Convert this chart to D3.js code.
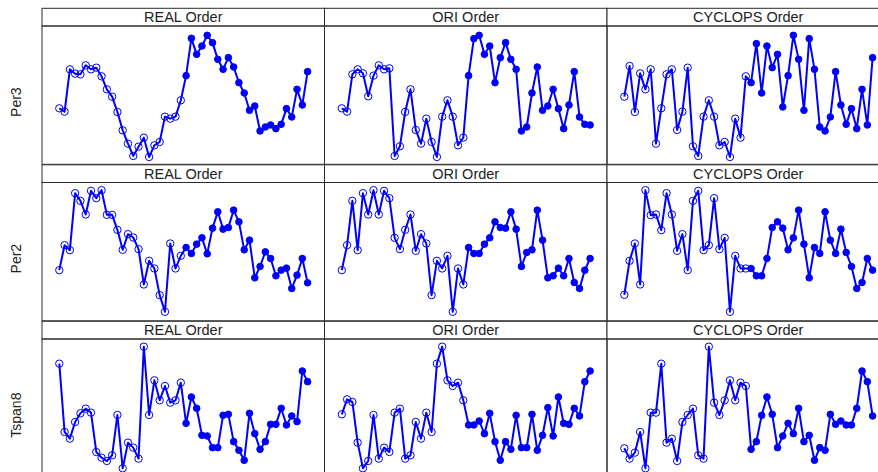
<!DOCTYPE html>
<html>
<head>
<meta charset="utf-8">
<script src="https://cdn.jsdelivr.net/npm/d3@7/dist/d3.min.js"></script>
<style>
  html, body { margin: 0; padding: 0; background: #fff; }
  svg { display: block; }
  text { font-family: "Liberation Sans", Arial, sans-serif; }
</style>
</head>
<body>
<svg id="chart" width="878" height="472"></svg>
<script>
// ---- data ----
const genes = ["Per3", "Per2", "Tspan8"];
const orders = ["REAL Order", "ORI Order", "CYCLOPS Order"];
const nOpen = 24; // first 24 samples drawn as open circles, rest filled

const per3Real = [1.68,1.58,2.85,2.72,2.70,2.97,2.85,2.90,2.64,2.25,2.03,1.57,1.02,0.62,0.25,0.53,0.80,0.22,0.57,0.67,1.43,1.37,1.43,1.92,
  2.66,3.78,3.30,3.55,3.87,3.65,3.15,2.85,3.20,2.92,2.45,2.14,1.62,1.75,1.00,1.12,1.18,1.07,1.20,1.67,1.42,2.25,1.78,2.78];
const per3Ori = [1.68,1.58,2.70,2.85,2.73,2.04,2.66,2.97,2.85,2.88,0.25,0.54,1.57,2.25,1.03,0.62,1.37,0.67,0.22,1.43,1.92,1.43,0.57,0.80,
  2.66,3.77,3.87,3.30,3.55,2.45,3.20,3.65,3.15,2.85,1.00,1.12,2.14,2.92,1.62,1.75,2.25,1.67,1.07,1.78,2.78,1.42,1.20,1.18];
const per3Cyclops = [2.03,2.95,1.57,2.73,2.25,2.85,0.62,1.68,2.70,2.85,1.03,1.58,2.90,0.54,0.25,1.43,1.92,1.43,0.57,0.67,0.22,1.37,0.80,2.64,
  2.45,3.62,2.14,3.55,2.90,3.30,1.72,2.66,3.87,3.15,1.62,3.77,2.85,1.12,1.00,1.42,2.78,1.78,1.20,1.67,1.07,2.25,1.18,3.20];

const per2Real = [1.52,2.27,2.12,3.83,3.60,3.19,3.90,3.68,3.92,3.18,3.18,2.73,2.13,2.60,2.50,2.15,1.09,1.80,1.57,0.77,0.27,2.32,1.57,1.95,
  2.20,2.02,2.30,2.49,2.01,2.78,3.27,2.75,2.80,3.32,2.97,2.13,2.42,1.29,1.63,2.07,1.87,1.35,1.52,1.58,0.97,1.37,1.87,1.14];
const per2Ori = [1.52,2.27,3.60,2.12,3.83,3.19,3.92,3.19,3.90,3.68,2.49,2.15,2.73,3.19,2.10,2.60,2.32,0.77,1.80,1.57,1.95,0.27,1.57,1.09,
  2.20,2.02,2.02,2.30,2.49,2.97,2.80,2.78,3.27,2.75,1.63,2.05,2.13,3.32,2.42,1.29,1.35,1.58,1.35,1.87,1.15,0.97,1.52,1.87];
const per2Cyclops = [0.78,1.80,2.32,1.09,3.92,3.17,3.19,2.72,3.83,3.19,2.10,2.60,1.52,3.60,3.90,2.12,2.27,3.68,2.15,2.49,0.27,1.95,1.57,1.57,
  1.57,1.35,1.35,1.87,2.80,2.97,2.78,2.13,2.49,3.32,2.30,1.29,2.20,2.02,3.27,2.42,2.02,2.75,2.05,1.63,0.97,1.15,1.87,1.52];

const tspan8Real = [3.41,1.36,1.16,1.66,1.92,2.06,1.94,0.76,0.59,0.49,0.66,1.87,0.27,1.04,0.89,0.56,3.92,1.87,2.91,2.31,2.74,2.24,2.31,2.84,
  1.62,2.41,2.07,1.26,1.24,0.89,0.89,1.86,1.89,1.07,0.81,0.51,1.92,1.31,0.84,1.07,1.59,1.59,2.07,1.57,1.84,1.67,3.19,2.87];
const tspan8Ori = [1.89,2.34,2.26,1.04,0.27,0.49,1.87,0.56,0.89,0.76,1.94,2.06,0.56,0.66,1.66,1.16,1.94,1.36,3.41,3.92,2.91,2.74,2.84,2.31,
  1.57,1.57,1.69,1.31,1.92,1.07,0.51,1.07,0.84,1.86,0.89,0.89,1.89,0.81,1.26,2.09,1.24,2.41,1.62,1.59,2.07,1.84,2.87,3.19];
const tspan8Cyclops = [0.87,0.56,0.74,1.36,0.27,1.94,1.94,3.41,1.04,1.16,0.49,1.66,1.87,2.06,0.66,0.56,3.92,2.24,1.87,2.31,2.91,2.31,2.84,2.74,
  0.84,1.07,1.86,2.41,1.89,0.89,1.24,1.62,1.31,2.07,1.07,1.26,0.51,0.89,0.81,1.89,1.59,1.69,1.57,1.57,2.07,3.19,2.87,1.84];

const panelData = [
  [per3Real, per3Ori, per3Cyclops],
  [per2Real, per2Ori, per2Cyclops],
  [tspan8Real, tspan8Ori, tspan8Cyclops]
];

// ---- layout ----
const colLeft = [42, 324.5, 607];
const colW = 282.5;
const rowTop = [8.3, 164.8, 321.3];
const stripH = 17.7;
const plotH = 138.3;
const blue = "#0000ff";
const edge = "#2b2b2b";

const svg = d3.select("#chart");

genes.forEach((gene, r) => {
  const top = rowTop[r];
  const plotTop = top + stripH;
  const y = d3.scaleLinear().domain([0, 4.15]).range([plotTop + plotH, plotTop]);

  // row label
  svg.append("text")
    .attr("transform", `translate(21,${plotTop + plotH / 2 + 7}) rotate(-90)`)
    .attr("text-anchor", "middle")
    .attr("font-size", 14)
    .attr("fill", "#222")
    .text(gene);

  orders.forEach((ord, c) => {
    const left = colLeft[c];
    const vals = panelData[r][c];
    const x = d3.scaleLinear().domain([0, vals.length - 1]).range([left + 17.3, left + 265.6]);
    const g = svg.append("g");

    // strip box
    g.append("rect")
      .attr("x", left).attr("y", top)
      .attr("width", colW).attr("height", stripH)
      .attr("fill", "#fff").attr("stroke", edge).attr("stroke-width", 1);
    g.append("text")
      .attr("x", left + colW / 2).attr("y", top + 14)
      .attr("text-anchor", "middle")
      .attr("font-size", 14.5)
      .attr("fill", "#222")
      .text(ord);

    // plot box
    g.append("rect")
      .attr("x", left).attr("y", plotTop)
      .attr("width", colW).attr("height", plotH)
      .attr("fill", "none").attr("stroke", edge).attr("stroke-width", 1);

    const line = d3.line().x((d, i) => x(i)).y(d => y(d));
    g.append("path")
      .attr("d", line(vals))
      .attr("fill", "none")
      .attr("stroke", blue)
      .attr("stroke-width", 2)
      .attr("stroke-linejoin", "round");

    g.selectAll("circle.open")
      .data(vals.slice(0, nOpen))
      .join("circle")
      .attr("class", "open")
      .attr("cx", (d, i) => x(i))
      .attr("cy", d => y(d))
      .attr("r", 3.7)
      .attr("fill", "none")
      .attr("stroke", blue)
      .attr("stroke-width", 1);

    g.selectAll("circle.filled")
      .data(vals.slice(nOpen))
      .join("circle")
      .attr("class", "filled")
      .attr("cx", (d, i) => x(i + nOpen))
      .attr("cy", d => y(d))
      .attr("r", 3.3)
      .attr("fill", blue)
      .attr("stroke", blue)
      .attr("stroke-width", 1);
  });
});
</script>
</body>
</html>
